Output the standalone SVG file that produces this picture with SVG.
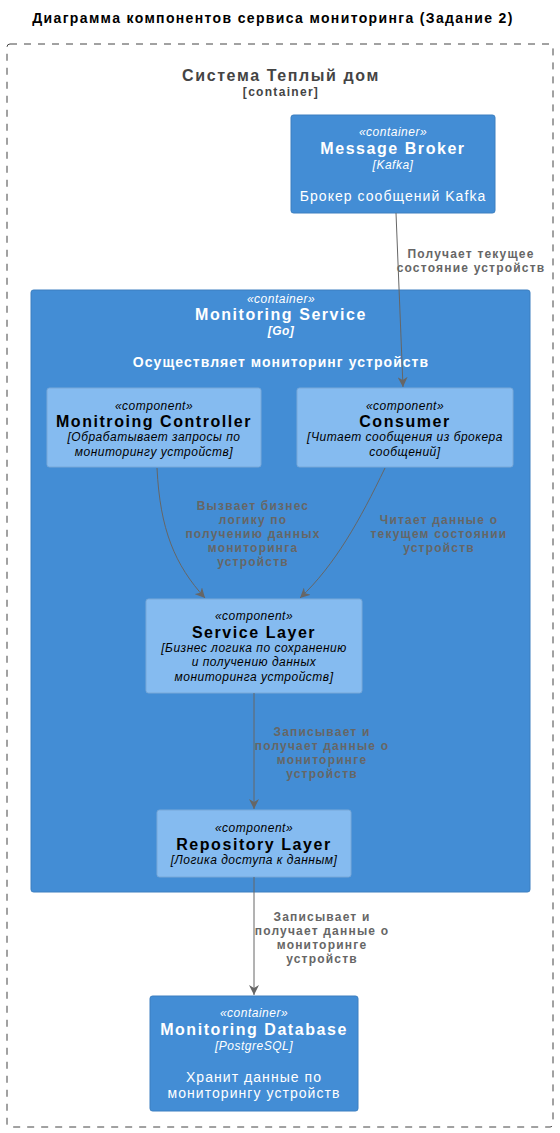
<svg xmlns="http://www.w3.org/2000/svg" width="560" height="1133" viewBox="0 0 560 1133">
<defs>
<style>
text{font-family:"Liberation Sans",Arial,sans-serif;text-anchor:middle}
.title{font-size:14px;font-weight:bold;fill:#000;letter-spacing:1.35px}
.bnd{font-size:16px;font-weight:bold;fill:#444;letter-spacing:1.6px}
.bnds{font-size:12px;font-weight:bold;fill:#444;letter-spacing:1.3px}
.cont{fill:#438DD5;stroke:#3C7FC0;stroke-width:1}
.comp{fill:#85BBF0;stroke:#78A8D8;stroke-width:1}
.st{font-size:12px;font-style:italic;letter-spacing:0.5px}
.nm{font-size:16px;font-weight:bold;letter-spacing:1.55px}
.ds{font-size:14px;letter-spacing:1.05px}
.dsi{font-size:12px;font-style:italic;letter-spacing:0.5px}
.w{fill:#fff}
.k{fill:#000}
.lbl{font-size:12px;font-weight:bold;fill:#666;letter-spacing:1.2px}
.edge{fill:none;stroke:#666;stroke-width:1}
</style>
<marker id="arr" viewBox="0 0 10 10" refX="10" refY="5" markerWidth="10" markerHeight="10" markerUnits="userSpaceOnUse" orient="auto">
<path d="M0,0 L10,5 L0,10 L3,5 Z" fill="#666"/>
</marker>
</defs>
<rect width="560" height="1133" fill="#fff"/>
<text class="title" x="273" y="23">Диаграмма компонентов сервиса мониторинга (Задание 2)</text>
<g id="boundary">
<rect x="7" y="44" width="546" height="1083" rx="3" fill="none" stroke="#444" stroke-width="1" stroke-dasharray="7,7"/>
<text class="bnd" x="281" y="81">Система Теплый дом</text>
<text class="bnds" x="281" y="96">[container]</text>
</g>
<g id="broker">
<rect class="cont" x="291" y="115" width="204" height="98" rx="2.5"/>
<text class="st w" x="393" y="136">«container»</text>
<text class="nm w" x="393" y="154">Message Broker</text>
<text class="dsi w" x="393" y="169">[Kafka]</text>
<text class="ds w" x="393" y="201">Брокер сообщений Kafka</text>
</g>
<g id="monitoring-service">
<rect class="cont" x="31" y="290" width="499" height="602" rx="2.5"/>
<text class="st w" x="281" y="303">«container»</text>
<text class="nm w" x="281" y="320">Monitoring Service</text>
<text class="dsi w" x="281" y="335" font-weight="bold">[Go]</text>
<text class="ds w" x="281" y="367" font-weight="bold">Осуществляет мониторинг устройств</text>
</g>
<g id="controller">
<rect class="comp" x="47" y="388" width="214" height="79" rx="2.5"/>
<text class="st k" x="154" y="410">«component»</text>
<text class="nm k" x="154" y="427">Monitroing Controller</text>
<text class="dsi k" x="154" y="441">[Обрабатывает запросы по</text>
<text class="dsi k" x="154" y="456">мониторингу устройств]</text>
</g>
<g id="consumer">
<rect class="comp" x="297" y="388" width="216" height="79" rx="2.5"/>
<text class="st k" x="405" y="410">«component»</text>
<text class="nm k" x="405" y="427">Consumer</text>
<text class="dsi k" x="405" y="441">[Читает сообщения из брокера</text>
<text class="dsi k" x="405" y="456">сообщений]</text>
</g>
<g id="service-layer">
<rect class="comp" x="146" y="599" width="216" height="94" rx="2.5"/>
<text class="st k" x="254" y="620">«component»</text>
<text class="nm k" x="254" y="638">Service Layer</text>
<text class="dsi k" x="254" y="652">[Бизнес логика по сохранению</text>
<text class="dsi k" x="254" y="666">и получению данных</text>
<text class="dsi k" x="254" y="681">мониторинга устройств]</text>
</g>
<g id="repository-layer">
<rect class="comp" x="157" y="810" width="194" height="67" rx="2.5"/>
<text class="st k" x="254" y="832">«component»</text>
<text class="nm k" x="254" y="850">Repository Layer</text>
<text class="dsi k" x="254" y="864">[Логика доступа к данным]</text>
</g>
<g id="database">
<rect class="cont" x="150" y="996" width="208" height="115" rx="2.5"/>
<text class="st w" x="254" y="1017">«container»</text>
<text class="nm w" x="254" y="1035">Monitoring Database</text>
<text class="dsi w" x="254" y="1050">[PostgreSQL]</text>
<text class="ds w" x="254" y="1082">Хранит данные по</text>
<text class="ds w" x="254" y="1098">мониторингу устройств</text>
</g>
<g id="connectors">
<path class="edge" d="M396,213 L403,387" marker-end="url(#arr)"/>
<text class="lbl" x="471" y="258">Получает текущее</text>
<text class="lbl" x="471" y="272">состояние устройств</text>
<path class="edge" d="M157,468 C160,530 175,565 205,598" marker-end="url(#arr)"/>
<text class="lbl" x="253" y="510">Вызвает бизнес</text>
<text class="lbl" x="253" y="524">логику по</text>
<text class="lbl" x="253" y="538">получению данных</text>
<text class="lbl" x="253" y="552">мониторинга</text>
<text class="lbl" x="253" y="566">устройств</text>
<path class="edge" d="M385,468 C360,520 335,565 300,598" marker-end="url(#arr)"/>
<text class="lbl" x="439" y="524">Читает данные о</text>
<text class="lbl" x="439" y="538">текущем состоянии</text>
<text class="lbl" x="439" y="552">устройств</text>
<path class="edge" d="M254,693 L254,809" marker-end="url(#arr)"/>
<text class="lbl" x="322" y="736">Записывает и</text>
<text class="lbl" x="322" y="750">получает данные о</text>
<text class="lbl" x="322" y="764">мониторинге</text>
<text class="lbl" x="322" y="778">устройств</text>
<path class="edge" d="M254,877 L254,995" marker-end="url(#arr)"/>
<text class="lbl" x="322" y="921">Записывает и</text>
<text class="lbl" x="322" y="935">получает данные о</text>
<text class="lbl" x="322" y="949">мониторинге</text>
<text class="lbl" x="322" y="963">устройств</text>
</g>
</svg>
